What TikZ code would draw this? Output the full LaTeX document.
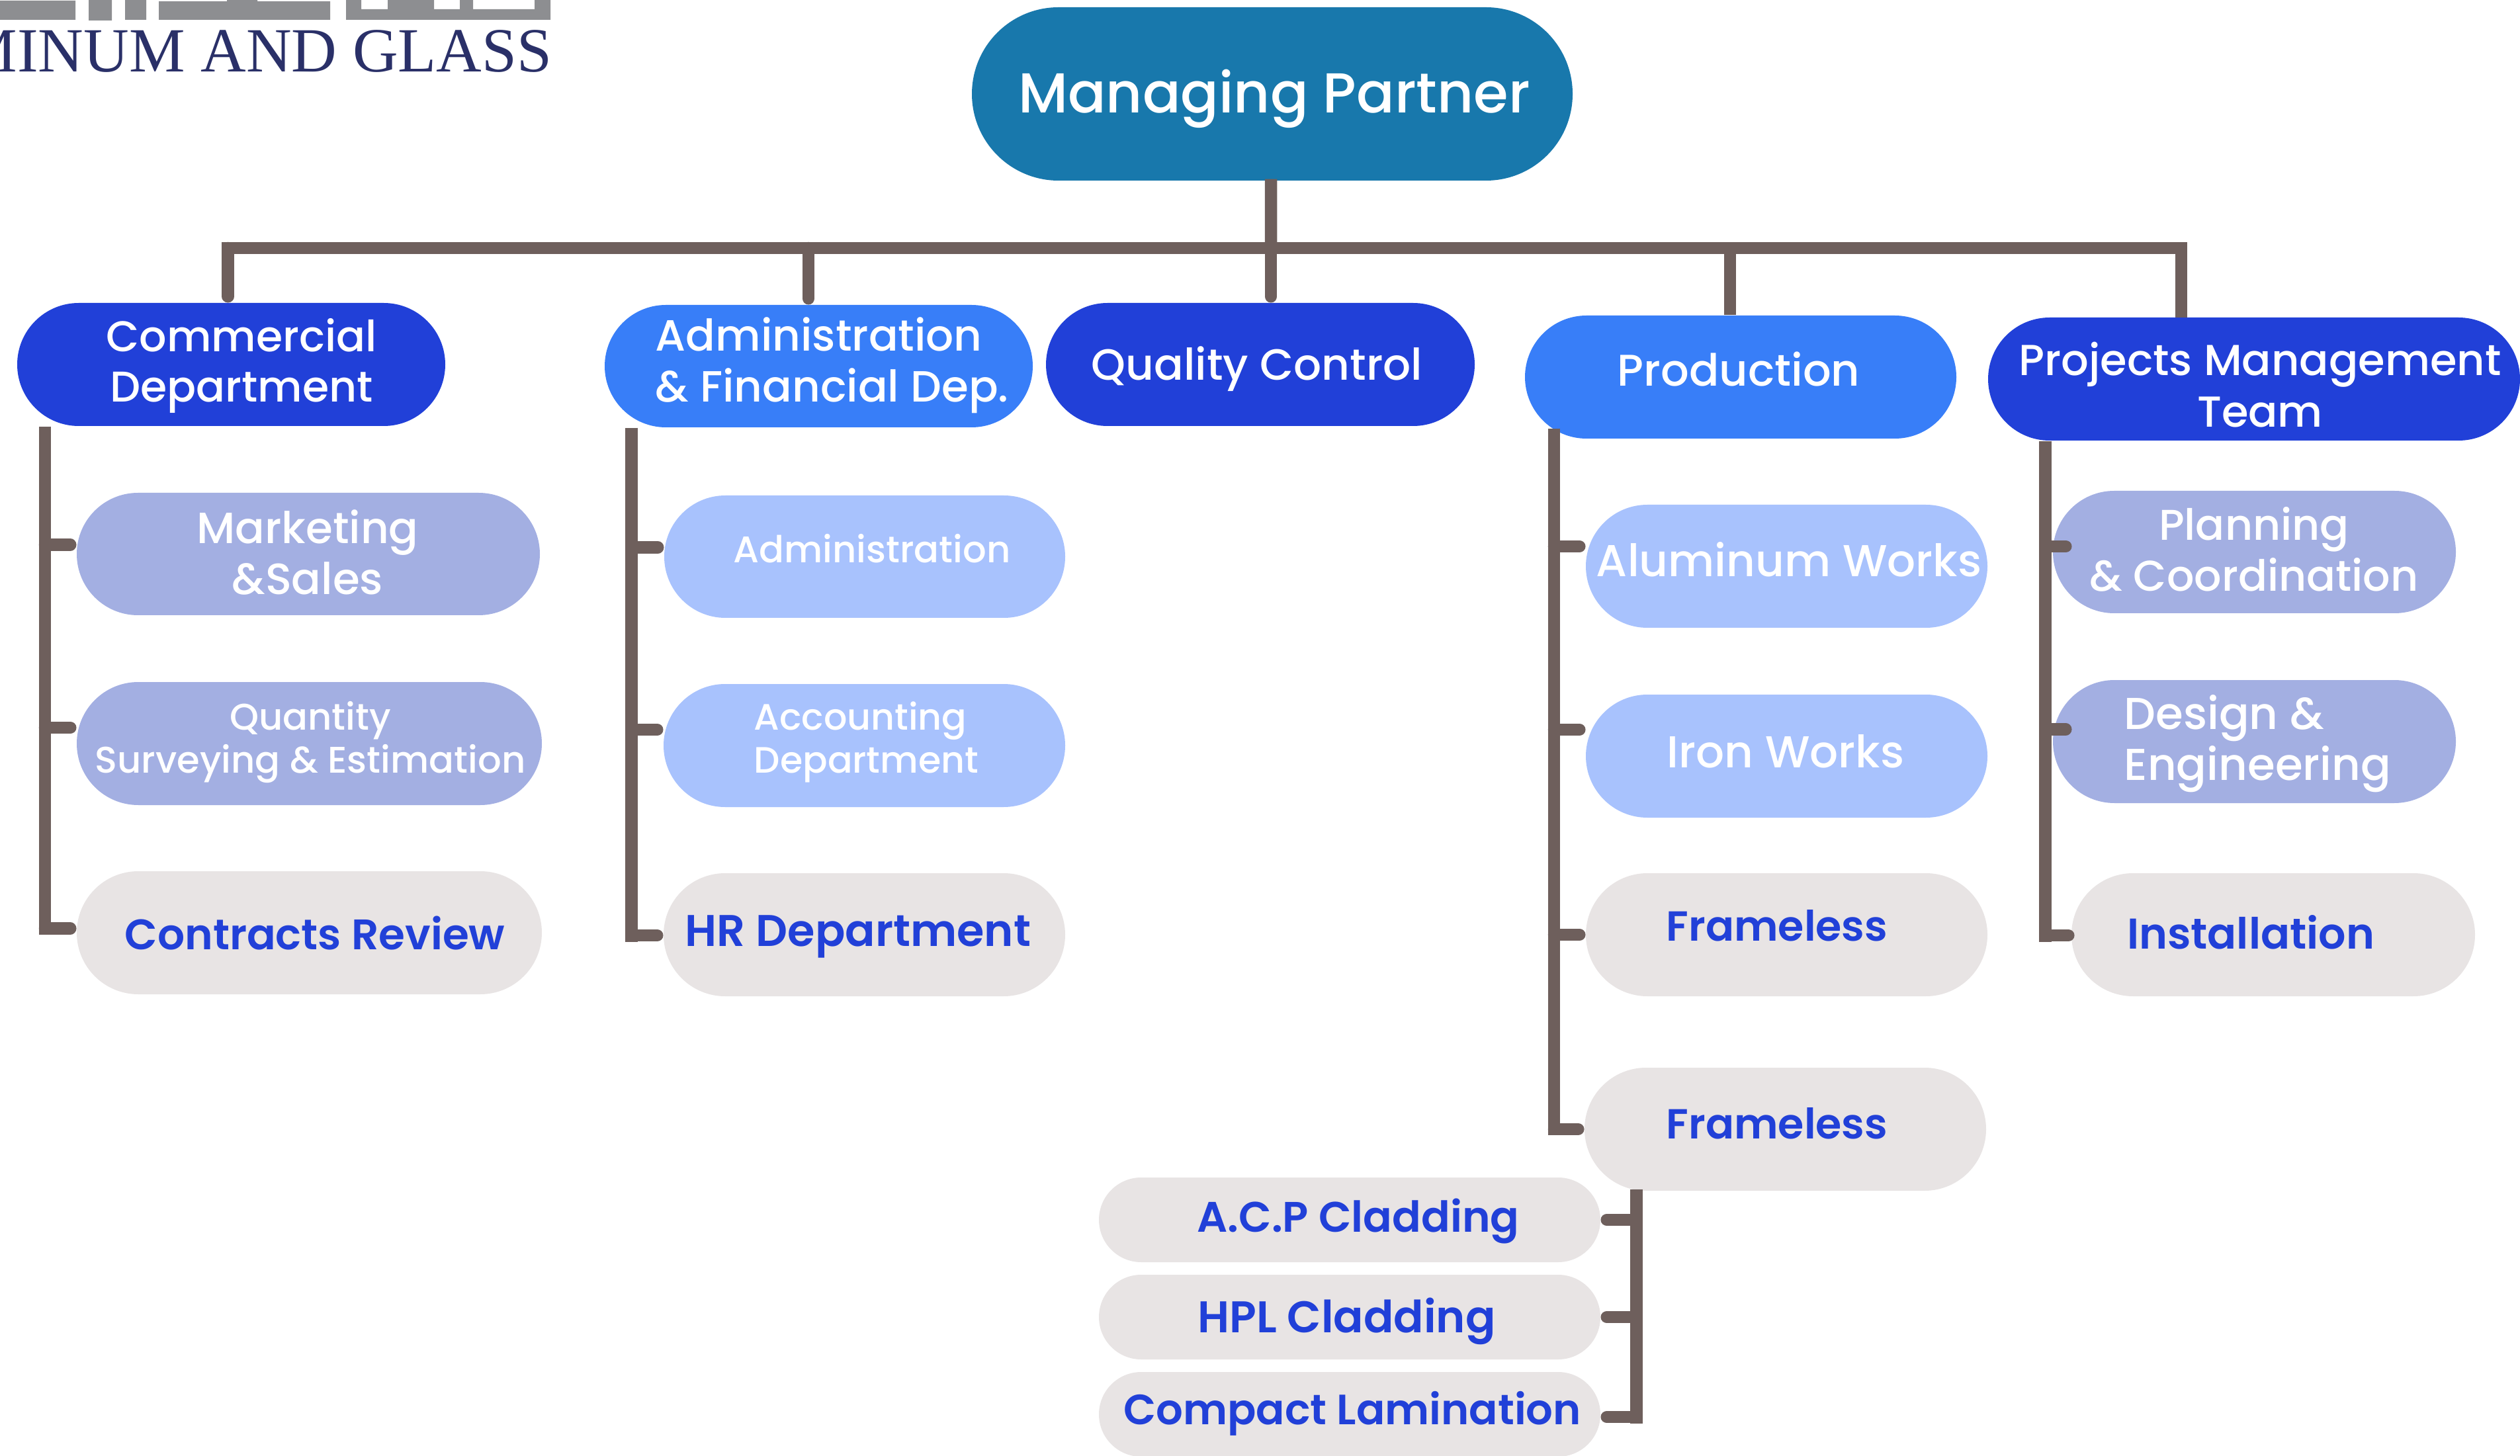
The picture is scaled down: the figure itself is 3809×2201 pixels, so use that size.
\documentclass[tikz,border=0pt]{standalone}
\usepackage{fontspec}
\setmainfont{Poppins Medium}
\newfontfamily\medf{Poppins SemiBold}
\newfontfamily\logof{Liberation Serif}
\usetikzlibrary{shapes.misc}
\definecolor{teal1}{HTML}{1878AC}
\definecolor{royal}{HTML}{2140D8}
\definecolor{azure}{HTML}{387EF8}
\definecolor{lav}{HTML}{A3AFE2}
\definecolor{sky}{HTML}{A8C2FD}
\definecolor{stone}{HTML}{E8E4E4}
\definecolor{conn}{HTML}{6E5F5C}
\definecolor{logogray}{HTML}{8D8E91}
\definecolor{logonavy}{HTML}{2A3068}
\tikzset{
  pillbox/.style={rounded rectangle,inner sep=0pt,draw=none},
  lbl/.style={inner sep=0pt,align=center,anchor=base},
  lbll/.style={inner sep=0pt,align=left,anchor=base west},
  trunk/.style={draw=conn,line width=5.25pt,line cap=butt,line join=miter},
  tick/.style={draw=conn,line width=5.25pt,line cap=round,shorten >=2.56pt},
}
\newcommand{\fsz}[2]{\fontsize{\fpeval{#1*0.28453}}{\fpeval{#2*0.28453}}\selectfont}
% name x1 y1 x2 y2 colour
\newcommand{\pill}[6]{\node[pillbox,fill=#6,minimum width={(#4-#2)*0.01cm},minimum height={(#5-#3)*0.01cm}] (#1) at ({(#2+#4)/2},{(#3+#5)/2}) {};}
% style name x lastbase size pitch colour text
\newcommand{\tx}[8]{\node[#1,text=#7,font=\fsz{#5}{#6}] (#2) at (#3,#4) {#8};}
\newcommand{\txm}[8]{\node[#1,text=#7,font=\fsz{#5}{#6}\medf] (#2) at (#3,#4) {#8};}
\begin{document}
\begin{tikzpicture}[x=0.01cm,y=-0.01cm]
\useasboundingbox (0,0) rectangle (3809,2201);
\clip (0,0) rectangle (3809,2201);
% logo
\fill[logogray] (0,1) rectangle (114,30) (134,0) rectangle (169,31) (189,0) rectangle (221,30)
  (240,2) rectangle (499,30) (343,0) rectangle (389,3);
\fill[logogray,even odd rule] (523,0) rectangle (832,30) (546,-1) rectangle (586,14) (656,-1) rectangle (695,14) (715,-1) rectangle (808,14);
\node[inner sep=0pt,anchor=base east,text=logonavy,font=\fsz{95}{95}\logof] (logo) at (835,109) {MINUM AND GLASS};
% named routing points
\coordinate (busL) at (344.5,375);
\coordinate (busR) at (3297,375);
\coordinate (admD) at (1222,375);
\coordinate (qcD) at (1921,375);
\coordinate (prdD) at (2615,375);
\coordinate (cT) at (68,0);
\coordinate (aT) at (954.5,0);
\coordinate (pT) at (2349,0);
\coordinate (jT) at (3091.5,0);
\coordinate (fT) at (2473.5,0);
% boxes
\pill{mp}{1469}{11}{2377}{273}{teal1}
\pill{comm}{26}{458}{673}{644}{royal}
\pill{adm}{914}{461}{1561}{646}{azure}
\pill{qc}{1581}{458}{2229}{644}{royal}
\pill{prod}{2305}{477}{2957}{663}{azure}
\pill{proj}{3005}{480}{3809}{666}{royal}
\pill{mark}{116}{745}{816}{930}{lav}
\pill{quant}{116}{1031}{819}{1217}{lav}
\pill{contr}{116}{1317}{819}{1503}{stone}
\pill{admin}{1004}{749}{1610}{934}{sky}
\pill{acct}{1003}{1034}{1610}{1220}{sky}
\pill{hr}{1003}{1320}{1610}{1506}{stone}
\pill{alum}{2397}{763}{3004}{949}{sky}
\pill{iron}{2397}{1050}{3004}{1236}{sky}
\pill{fra}{2397}{1320}{3004}{1506}{stone}
\pill{frb}{2395}{1614}{3002}{1800}{stone}
\pill{plan}{3103}{742}{3712}{927}{lav}
\pill{des}{3103}{1028}{3712}{1214}{lav}
\pill{inst}{3131}{1320}{3741}{1506}{stone}
\pill{acp}{1661}{1780}{2419}{1908}{stone}
\pill{hpl}{1661}{1927}{2419}{2055}{stone}
\pill{cpl}{1661}{2074}{2419}{2202}{stone}
% top connectors
\draw[trunk] ([xshift=-0.02cm,yshift=0.03cm]mp.south) -- (qcD);
\draw[trunk,line cap=rect] (busL) -- (busR) -- ([yshift=0.09cm]proj.north -| busR);
\draw[tick] (busL) -- (comm.north -| busL);
\draw[tick] (admD) -- (adm.north -| admD);
\draw[tick] (qcD) -- (qc.north -| qcD);
\draw[trunk] (prdD) -- (prod.north -| prdD);
% commercial
\draw[trunk] (comm.south -| cT) -- ([yshift=-0.03cm]contr.west -| cT);
\draw[tick] ([yshift=0.14cm]mark.west -| cT) -- ([yshift=0.14cm]mark.west);
\draw[tick] ([yshift=0.24cm]quant.west -| cT) -- ([yshift=0.24cm]quant.west);
\draw[tick] ([yshift=0.065cm]contr.west -| cT) -- ([yshift=0.065cm]contr.west);
% administration
\draw[trunk] (adm.south -| aT) -- ([yshift=-0.11cm]hr.west -| aT);
\draw[tick] ([yshift=0.14cm]admin.west -| aT) -- ([yshift=0.14cm]admin.west);
\draw[tick] ([yshift=0.24cm]acct.west -| aT) -- ([yshift=0.24cm]acct.west);
\draw[tick] ([yshift=-0.01cm]hr.west -| aT) -- ([yshift=-0.01cm]hr.west);
% production
\draw[trunk] ([yshift=0.16cm]prod.south -| pT) -- ([yshift=-0.09cm]frb.west -| pT);
\draw[tick] ([yshift=0.30cm]alum.west -| pT) -- ([yshift=0.30cm]alum.west);
\draw[tick] ([yshift=0.40cm]iron.west -| pT) -- ([yshift=0.40cm]iron.west);
\draw[tick] (fra.west -| pT) -- (fra.west);
\draw[tick] (frb.west -| pT) -- (frb.west);
% projects
\draw[trunk] (proj.south -| jT) -- ([yshift=-0.11cm]inst.west -| jT);
\draw[tick] ([yshift=0.085cm]plan.west -| jT) -- ([xshift=0.29cm,yshift=0.085cm]plan.west);
\draw[tick] ([yshift=0.185cm]des.west -| jT) -- ([xshift=0.29cm,yshift=0.185cm]des.west);
\draw[tick] ([yshift=-0.01cm]inst.west -| jT) -- ([xshift=0.05cm,yshift=-0.01cm]inst.west);
% cladding
\draw[trunk] ([yshift=0.03cm]frb.south -| fT) -- ([yshift=-0.14cm]cpl.east -| fT);
\draw[tick] (acp.east -| fT) -- (acp.east);
\draw[tick] (hpl.east -| fT) -- (hpl.east);
\draw[tick] ([yshift=-0.04cm]cpl.east -| fT) -- ([yshift=-0.04cm]cpl.east);
% labels
\tx{lbl}{tmp}{1926}{170.5}{85}{85}{white}{Managing Partner}
\tx{lbl}{tcomm}{365}{608}{65}{76}{white}{Commercial\\Department}
\tx{lbll}{tadm}{990}{608}{66}{77}{white}{Administration\\\& Financial Dep.}
\tx{lbl}{tqc}{1900}{574.5}{66}{66}{white}{Quality Control}
\tx{lbl}{tprod}{2628}{584}{67}{67}{white}{Production}
\tx{lbl}{tproj}{3416}{646}{65.5}{78}{white}{Projects Management\\Team}
\tx{lbl}{tmark}{465}{899}{66}{77}{white}{Marketing\\\&Sales}
\tx{lbl}{tquant}{469}{1168}{56}{64}{white}{Quantity\\Surveying \& Estimation}
\txm{lbl}{tcontr}{476}{1435}{64.5}{67}{royal}{Contracts Review}
\tx{lbl}{tadmin}{1318}{851}{56}{56}{white}{Administration}
\tx{lbll}{tacct}{1139}{1168}{55.5}{64}{white}{Accounting\\Department}
\txm{lbl}{thr}{1297}{1430}{67}{67}{royal}{HR Department}
\tx{lbl}{talum}{2704}{872}{67.5}{67}{white}{Aluminum Works}
\tx{lbl}{tiron}{2699}{1160.5}{67.5}{67}{white}{Iron Works}
\txm{lbl}{tfra}{2686}{1422}{63.5}{67}{royal}{Frameless}
\txm{lbl}{tfrb}{2686}{1721}{63.5}{67}{royal}{Frameless}
\tx{lbl}{tplan}{3407}{894}{65}{77}{white}{Planning\\\& Coordination}
\tx{lbll}{tdes}{3210}{1179.5}{67.5}{77}{white}{Design \&\\Engineering}
\txm{lbl}{tinst}{3402}{1434}{65}{67}{royal}{Installation}
\txm{lbl}{tacp}{2053}{1862.5}{64.5}{67}{royal}{A.C.P Cladding}
\txm{lbl}{thpl}{2035.5}{2014.5}{67}{67}{royal}{HPL Cladding}
\txm{lbl}{tcpl}{2044}{2153}{64}{67}{royal}{Compact Lamination}
\end{tikzpicture}
\end{document}
